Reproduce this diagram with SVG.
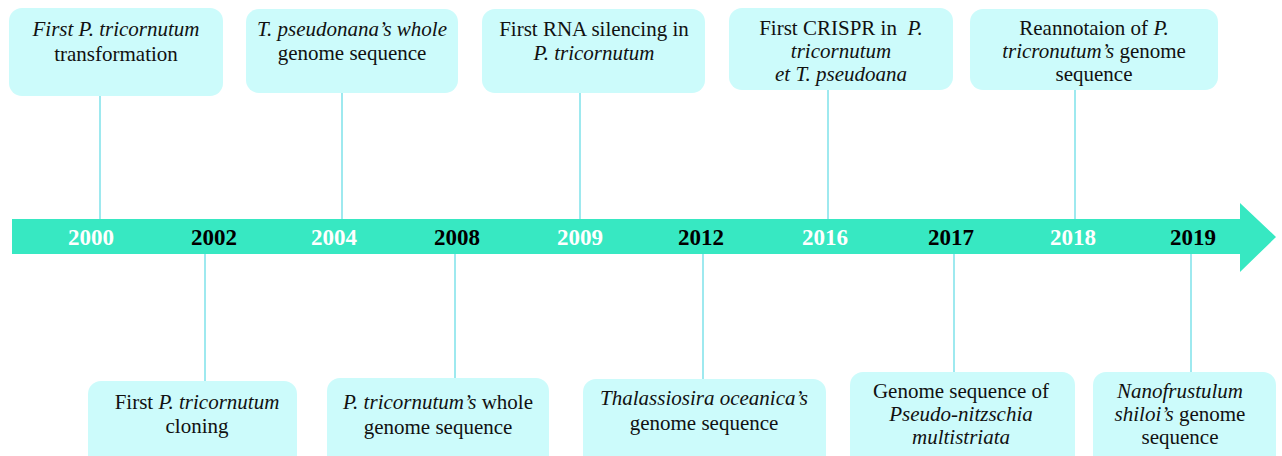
<svg xmlns="http://www.w3.org/2000/svg" width="1282" height="456" viewBox="0 0 1282 456">
<style>
.box{fill:#ccfbfb;}
.t{font-family:"Liberation Serif","Times New Roman",serif;font-size:21px;fill:#111;text-anchor:middle;}
.i{font-style:italic;}
.yr{font-family:"Liberation Serif","Times New Roman",serif;font-size:23px;font-weight:bold;text-anchor:middle;}
.w{fill:#ffffff;}
.k{fill:#000000;}
.con line{stroke:#9ee9ef;stroke-width:2;}
</style>
<rect width="1282" height="456" fill="#ffffff"/>
<g id="connectors" class="con">
<line x1="100" y1="96" x2="100" y2="219"/>
<line x1="342" y1="93" x2="342" y2="219"/>
<line x1="580" y1="93" x2="580" y2="219"/>
<line x1="828" y1="90" x2="828" y2="219"/>
<line x1="1075" y1="90" x2="1075" y2="219"/>
<line x1="205" y1="254" x2="205" y2="381"/>
<line x1="455" y1="254" x2="455" y2="378"/>
<line x1="703" y1="254" x2="703" y2="379"/>
<line x1="954" y1="254" x2="954" y2="372"/>
<line x1="1191" y1="254" x2="1191" y2="372"/>
</g>
<g id="timeline">
<polygon points="12,219 1240,219 1240,203 1276,237 1240,272 1240,254 12,254" fill="#37e8c2"/>
<text class="yr w" x="91" y="245">2000</text>
<text class="yr k" x="214" y="245">2002</text>
<text class="yr w" x="334" y="245">2004</text>
<text class="yr k" x="457" y="245">2008</text>
<text class="yr w" x="580" y="245">2009</text>
<text class="yr k" x="701" y="245">2012</text>
<text class="yr w" x="825" y="245">2016</text>
<text class="yr k" x="951" y="245">2017</text>
<text class="yr w" x="1073" y="245">2018</text>
<text class="yr k" x="1193" y="245">2019</text>
</g>
<g id="n2000">
<rect class="box" x="9" y="8" width="214" height="88" rx="13"/>
<text class="t i" x="116" y="36">First P. tricornutum</text>
<text class="t" x="116" y="61">transformation</text>
</g>
<g id="n2004">
<rect class="box" x="246" y="9" width="212" height="84" rx="13"/>
<text class="t i" x="352" y="36">T. pseudonana’s whole</text>
<text class="t" x="352" y="60">genome sequence</text>
</g>
<g id="n2009">
<rect class="box" x="482" y="9" width="223" height="84" rx="13"/>
<text class="t" x="594" y="36">First RNA silencing in</text>
<text class="t i" x="594" y="60">P. tricornutum</text>
</g>
<g id="n2016">
<rect class="box" x="729" y="8" width="224" height="82" rx="13"/>
<text class="t" x="841" y="35">First CRISPR in&#160; <tspan class="i">P.</tspan></text>
<text class="t i" x="841" y="58">tricornutum</text>
<text class="t i" x="841" y="81">et T. pseudoana</text>
</g>
<g id="n2018">
<rect class="box" x="970" y="9" width="248" height="81" rx="13"/>
<text class="t" x="1094" y="35">Reannotaion of <tspan class="i">P.</tspan></text>
<text class="t" x="1094" y="58"><tspan class="i">tricronutum’s</tspan> genome</text>
<text class="t" x="1094" y="81">sequence</text>
</g>
<g id="n2002">
<rect class="box" x="88" y="381" width="209" height="90" rx="13"/>
<text class="t" x="197" y="409">First <tspan class="i">P. tricornutum</tspan></text>
<text class="t" x="197" y="433">cloning</text>
</g>
<g id="n2008">
<rect class="box" x="327" y="378" width="222" height="90" rx="13"/>
<text class="t" x="438" y="409"><tspan class="i">P. tricornutum’s</tspan> whole</text>
<text class="t" x="438" y="434">genome sequence</text>
</g>
<g id="n2012">
<rect class="box" x="583" y="379" width="243" height="90" rx="13"/>
<text class="t i" x="704" y="405">Thalassiosira oceanica’s</text>
<text class="t" x="704" y="430">genome sequence</text>
</g>
<g id="n2017">
<rect class="box" x="850" y="372" width="225" height="96" rx="13"/>
<text class="t" x="961" y="398">Genome sequence of</text>
<text class="t i" x="961" y="421">Pseudo-nitzschia</text>
<text class="t i" x="961" y="444">multistriata</text>
</g>
<g id="n2019">
<rect class="box" x="1093" y="372" width="183" height="96" rx="13"/>
<text class="t i" x="1180" y="398">Nanofrustulum</text>
<text class="t" x="1180" y="421"><tspan class="i">shiloi’s</tspan> genome</text>
<text class="t" x="1180" y="444">sequence</text>
</g>
</svg>
